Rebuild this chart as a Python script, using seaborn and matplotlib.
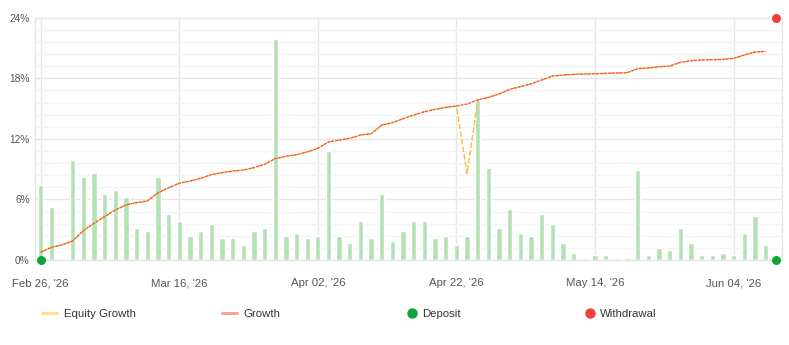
import numpy as np
import pandas as pd
import matplotlib
matplotlib.use("Agg")
import matplotlib.pyplot as plt
from matplotlib.lines import Line2D
from matplotlib.ticker import MultipleLocator, FuncFormatter
import seaborn as sns

# daily bar values (%), one per trading day
bars = [7.43, 5.25, 0, 9.9, 8.22, 8.62, 6.54, 6.93, 6.24, 3.17,
        2.87, 8.22, 4.56, 3.86, 2.38, 2.87, 3.57, 2.18, 2.18, 1.49,
        2.87, 3.17, 21.9, 2.38, 2.67, 2.18, 2.38, 10.8, 2.38, 1.68,
        3.86, 2.18, 6.54, 1.88, 2.87, 3.86, 3.86, 2.18, 2.38, 1.49,
        2.38, 15.85, 9.11, 3.17, 5.05, 2.67, 2.38, 4.56, 3.57, 1.68,
        0.69, 0.2, 0.5, 0.5, 0.2, 0.2, 8.91, 0.5, 1.19, 0.99,
        3.17, 1.68, 0.5, 0.5, 0.69, 0.5, 2.67, 4.36, 1.49]

growth = [0.76, 1.25, 1.49, 1.88, 2.9, 3.63, 4.29, 4.95, 5.45, 5.68,
          5.84, 6.65, 7.16, 7.6, 7.82, 8.09, 8.45, 8.65, 8.81, 8.91,
          9.14, 9.47, 10.04, 10.27, 10.43, 10.7, 11.06, 11.69, 11.88, 12.05,
          12.38, 12.51, 13.37, 13.6, 14.0, 14.36, 14.69, 14.92, 15.12, 15.25,
          15.45, 15.85, 16.11, 16.44, 16.9, 17.17, 17.45, 17.83, 18.22, 18.32,
          18.39, 18.42, 18.45, 18.49, 18.52, 18.55, 18.95, 19.02, 19.14, 19.21,
          19.58, 19.74, 19.81, 19.84, 19.87, 19.97, 20.3, 20.6, 20.67]

equity = [0.76, 1.25, 1.49, 1.88, 2.9, 3.63, 4.29, 4.95, 5.45, 5.68,
          5.84, 6.65, 7.16, 7.6, 7.82, 8.09, 8.45, 8.65, 8.81, 8.91,
          9.14, 9.47, 10.04, 10.27, 10.43, 10.7, 11.06, 11.69, 11.88, 12.05,
          12.38, 12.51, 13.37, 13.6, 14.0, 14.36, 14.69, 14.92, 15.12, 15.25,
          8.55, 15.85, 16.11, 16.44, 16.9, 17.17, 17.45, 17.83, 18.22, 18.32,
          18.39, 18.42, 18.45, 18.49, 18.52, 18.55, 18.95, 19.02, 19.14, 19.21,
          19.58, 19.74, 19.81, 19.84, 19.87, 19.97, 20.3, 20.6, 20.67]

deposit_x = [0, 69]
deposit_y = [0, 0]
withdrawal_x = [69]
withdrawal_y = [24]

tick_pos = [0, 13, 26, 39, 52, 65]
tick_labels = ["Feb 26, '26", "Mar 16, '26", "Apr 02, '26", "Apr 22, '26", "May 14, '26", "Jun 04, '26"]

idx = np.arange(len(bars))
df = pd.DataFrame({"i": idx, "bars": bars, "growth": growth, "equity": equity})

sns.set_style("white")
plt.rcParams["font.family"] = ["Liberation Sans", "DejaVu Sans"]

fig = plt.figure(figsize=(7.89, 3.45), dpi=100)
ax = fig.add_axes([0.0447, 0.2464, 0.9460, 0.7023])

sns.barplot(data=df, x="i", y="bars", native_scale=True, width=0.5,
            color="#b3e2b5", saturation=1, ax=ax, zorder=2)
sns.lineplot(data=df, x="i", y="equity", color="#f8be3a", lw=1.0,
             ax=ax, zorder=3)
ax.lines[-1].set_dashes((4, 1.5))
sns.lineplot(data=df, x="i", y="growth", color="#f2583a", lw=0.9,
             ax=ax, zorder=4)
ax.lines[-1].set_dashes((2.5, 0.7))
sns.scatterplot(x=deposit_x, y=deposit_y, color="#0fa43a", s=42, linewidth=0,
                ax=ax, zorder=6, clip_on=False)
sns.scatterplot(x=withdrawal_x, y=withdrawal_y, color="#ef4136", s=42, linewidth=0,
                ax=ax, zorder=6, clip_on=False)

ax.set_xlim(-0.5, 69.5)
ax.set_ylim(0, 24)
ax.yaxis.set_major_locator(MultipleLocator(6))
ax.yaxis.set_minor_locator(MultipleLocator(1.2))
ax.yaxis.set_major_formatter(FuncFormatter(lambda v, p: f"{v:.0f}%"))
ax.set_xticks(tick_pos)
ax.set_xticklabels(tick_labels)
ax.set_xlabel("")
ax.set_ylabel("")

ax.grid(True, which="major", color="#e6e6e6", lw=1, zorder=0)
ax.grid(True, which="minor", axis="y", color="#f3f3f3", lw=1, zorder=0)
ax.set_axisbelow(True)
for s in ax.spines.values():
    s.set_color("#e6e6e6")
    s.set_linewidth(1)
ax.tick_params(axis="both", which="both", length=0)
ax.tick_params(axis="x", pad=13, labelsize=8.2, labelcolor="#555555")
ax.tick_params(axis="y", pad=4, labelsize=7.3, labelcolor="#555555")

leg_items = [
    (Line2D([], [], color="#ffe08c", lw=2.2), "Equity Growth", 42, 1.3, 0.6),
    (Line2D([], [], color="#f6a59b", lw=2.2), "Growth", 222, 1.3, 0.6),
    (Line2D([], [], color="#0fa43a", marker="o", ls="", ms=6.5), "Deposit", 406, 1.0, 0.4),
    (Line2D([], [], color="#ef4136", marker="o", ls="", ms=6.5), "Withdrawal", 584, 1.0, 0.4),
]
for h, lab, px, hl, tp in leg_items:
    fig.legend([h], [lab], loc="center left", bbox_to_anchor=(px / 789, 1 - 314 / 345),
               frameon=False, borderpad=0, borderaxespad=0, handlelength=hl,
               handletextpad=tp, prop={"size": 8.2}, labelcolor="#333333")

fig.savefig("out.png", dpi=100)
